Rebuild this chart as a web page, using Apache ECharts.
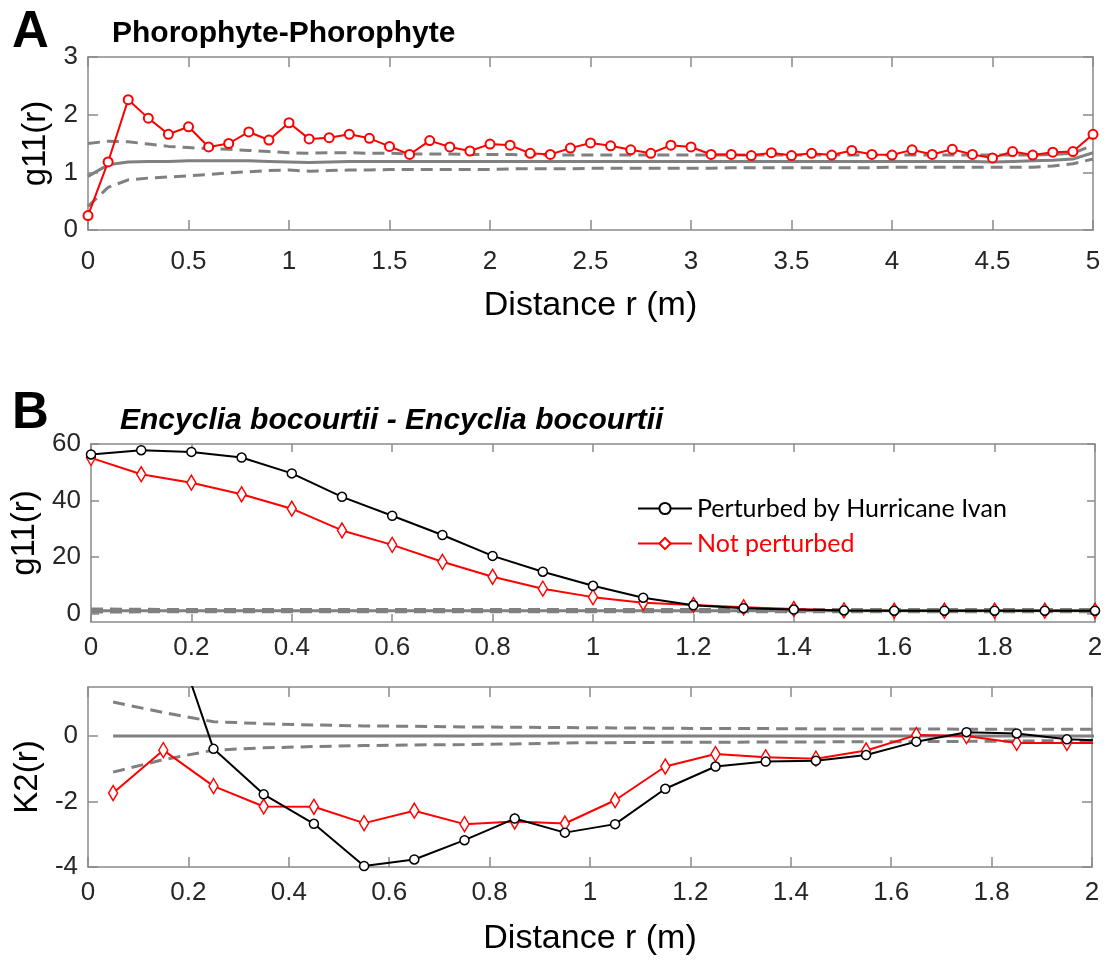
<!DOCTYPE html>
<html>
<head>
<meta charset="utf-8">
<script src="https://cdn.jsdelivr.net/npm/echarts@6/dist/echarts.min.js"></script>
<style>
html,body{margin:0;padding:0;background:#fff;}
#chart{width:1107px;height:962px;}
</style>
</head>
<body>
<div id="chart"></div>
<script>
// ---------- Panel A: Phorophyte-Phorophyte ----------
const aX = [0,0.1,0.2,0.3,0.4,0.5,0.6,0.7,0.8,0.9,1.0,1.1,1.2,1.3,1.4,1.5,1.6,1.7,1.8,1.9,2.0,2.1,2.2,2.3,2.4,2.5,2.6,2.7,2.8,2.9,3.0,3.1,3.2,3.3,3.4,3.5,3.6,3.7,3.8,3.9,4.0,4.1,4.2,4.3,4.4,4.5,4.6,4.7,4.8,4.9,5.0];
const aObserved = [0.25,1.18,2.26,1.94,1.66,1.79,1.44,1.50,1.70,1.56,1.86,1.58,1.60,1.66,1.59,1.45,1.31,1.55,1.44,1.37,1.49,1.47,1.33,1.31,1.42,1.51,1.46,1.39,1.33,1.47,1.44,1.31,1.31,1.29,1.34,1.29,1.33,1.30,1.38,1.31,1.30,1.39,1.31,1.40,1.31,1.25,1.36,1.30,1.35,1.36,1.66];
const aMean = [0.93,1.13,1.18,1.19,1.19,1.20,1.20,1.20,1.20,1.19,1.18,1.17,1.18,1.19,1.19,1.19,1.19,1.19,1.19,1.19,1.19,1.19,1.19,1.19,1.19,1.19,1.19,1.19,1.19,1.19,1.19,1.19,1.19,1.19,1.19,1.19,1.19,1.19,1.19,1.19,1.19,1.19,1.19,1.19,1.19,1.18,1.19,1.20,1.21,1.23,1.34];
const aUpper = [1.50,1.54,1.53,1.49,1.45,1.43,1.41,1.40,1.38,1.36,1.34,1.33,1.34,1.34,1.33,1.33,1.32,1.32,1.32,1.31,1.31,1.31,1.30,1.30,1.30,1.30,1.30,1.30,1.30,1.30,1.30,1.30,1.30,1.30,1.30,1.30,1.30,1.30,1.30,1.30,1.30,1.30,1.30,1.30,1.30,1.30,1.30,1.30,1.31,1.33,1.47];
const aLower = [0.41,0.74,0.87,0.90,0.92,0.94,0.96,0.99,1.01,1.03,1.04,1.02,1.03,1.04,1.04,1.05,1.05,1.05,1.05,1.05,1.05,1.06,1.06,1.06,1.06,1.07,1.07,1.07,1.07,1.07,1.07,1.07,1.08,1.08,1.08,1.08,1.08,1.08,1.08,1.08,1.09,1.09,1.09,1.09,1.09,1.09,1.09,1.09,1.11,1.15,1.23];
const aXTicks = [0,0.5,1,1.5,2,2.5,3,3.5,4,4.5,5];
const aYTicks = [0,1,2,3];

// ---------- Panel B (top): g11 ----------
const bX = [0,0.1,0.2,0.3,0.4,0.5,0.6,0.7,0.8,0.9,1.0,1.1,1.2,1.3,1.4,1.5,1.6,1.7,1.8,1.9,2.0];
const bPerturbed = [56.3,57.8,57.2,55.2,49.6,41.3,34.6,27.8,20.4,14.8,9.8,5.6,2.9,1.9,1.4,1.1,1.0,1.0,1.0,1.0,1.0];
const bNotPerturbed = [55.1,49.3,46.3,42.2,37.1,29.4,24.3,18.3,13.0,8.8,5.8,3.8,3.0,2.2,1.6,1.1,1.0,1.0,1.0,1.0,1.0];
const bMean = [1,1,1,1,1,1,1,1,1,1,1,1,1,1,1,1,1,1,1,1,1];
const bUpper = [1.6,1.5,1.4,1.4,1.4,1.4,1.4,1.4,1.4,1.4,1.4,1.4,1.4,1.4,1.4,1.4,1.4,1.4,1.4,1.4,1.4];
const bLower = [0.5,0.6,0.6,0.6,0.6,0.6,0.6,0.6,0.6,0.6,0.6,0.6,0.6,0.6,0.6,0.6,0.6,0.6,0.6,0.6,0.6];
const bXTicks = [0,0.2,0.4,0.6,0.8,1,1.2,1.4,1.6,1.8,2];
const bYTicks = [0,20,40,60];

// ---------- Panel B (bottom): K2 ----------
const kX = [0.05,0.15,0.25,0.35,0.45,0.55,0.65,0.75,0.85,0.95,1.05,1.15,1.25,1.35,1.45,1.55,1.65,1.75,1.85,1.95,2.05];
const kPerturbed = [7.5,4.1,-0.39,-1.78,-2.68,-3.97,-3.77,-3.18,-2.52,-2.95,-2.69,-1.61,-0.93,-0.78,-0.75,-0.58,-0.17,0.12,0.08,-0.10,-0.15];
const kNotPerturbed = [-1.74,-0.43,-1.53,-2.15,-2.16,-2.66,-2.28,-2.69,-2.61,-2.67,-1.96,-0.93,-0.55,-0.65,-0.69,-0.44,0.03,0.0,-0.21,-0.21,-0.21];
const kMean = [0,0,0,0,0,0,0,0,0,0,0,0,0,0,0,0,0,0,0,0,0];
const kUpper = [1.04,0.72,0.44,0.38,0.34,0.31,0.30,0.28,0.27,0.26,0.25,0.24,0.23,0.23,0.22,0.22,0.22,0.21,0.21,0.21,0.21];
const kLower = [-1.10,-0.72,-0.43,-0.36,-0.32,-0.29,-0.27,-0.26,-0.24,-0.21,-0.20,-0.19,-0.19,-0.18,-0.18,-0.17,-0.17,-0.16,-0.15,-0.14,-0.14];
const kYTicks = [-4,-2,0];

const NAME_P = 'Perturbed by Hurricane Ivan';
const NAME_N = 'Not perturbed';

// ---------- helpers ----------
const FONT = "'Liberation Sans', Arial, Helvetica, sans-serif";
const AXC = '#8a8a8a';
const GRAY = '#808080';
const pairs = (xs, ys) => xs.map((x, i) => [x, ys[i]]);

function xAxisPair(grid, min, max, ticks, tickLen, labelMargin, nameGap) {
  return [
    {
      type: 'value', gridIndex: grid, min: min, max: max, position: 'bottom',
      axisLine: {show: true, onZero: false, lineStyle: {color: AXC, width: 1.5}},
      axisTick: {show: true, inside: true, length: tickLen, customValues: ticks, lineStyle: {color: AXC, width: 1.5}},
      axisLabel: {show: true, customValues: ticks, margin: labelMargin, color: '#262626', fontSize: 26, fontFamily: FONT},
      splitLine: {show: false},
      name: nameGap ? 'Distance r (m)' : '', nameLocation: 'middle', nameGap: nameGap || 0,
      nameTextStyle: {color: '#000', fontSize: 34, fontFamily: FONT}
    },
    {
      type: 'value', gridIndex: grid, min: min, max: max, position: 'top',
      axisLine: {show: true, onZero: false, lineStyle: {color: AXC, width: 1.5}},
      axisTick: {show: true, inside: true, length: tickLen, customValues: ticks, lineStyle: {color: AXC, width: 1.5}},
      axisLabel: {show: false}, splitLine: {show: false}
    }
  ];
}
function yAxisPair(grid, min, max, ticks, tickLen, name, nameGap) {
  return [
    {
      type: 'value', gridIndex: grid, min: min, max: max, position: 'left',
      axisLine: {show: true, onZero: false, lineStyle: {color: AXC, width: 1.5}},
      axisTick: {show: true, inside: true, length: tickLen, customValues: ticks, lineStyle: {color: AXC, width: 1.5}},
      axisLabel: {show: true, customValues: ticks, margin: 10, color: '#262626', fontSize: 26, fontFamily: FONT},
      splitLine: {show: false},
      name: name, nameLocation: 'middle', nameGap: nameGap, nameRotate: 90,
      nameTextStyle: {color: '#000', fontSize: 33, fontFamily: FONT}
    },
    {
      type: 'value', gridIndex: grid, min: min, max: max, position: 'right',
      axisLine: {show: true, onZero: false, lineStyle: {color: AXC, width: 1.5}},
      axisTick: {show: true, inside: true, length: tickLen, customValues: ticks, lineStyle: {color: AXC, width: 1.5}},
      axisLabel: {show: false}, splitLine: {show: false}
    }
  ];
}
function grayLine(xi, yi, data, dashed) {
  return {
    type: 'line', xAxisIndex: xi, yAxisIndex: yi, data: data, symbol: 'none', silent: true,
    lineStyle: {color: GRAY, width: 3, type: dashed ? [12, 7] : 'solid'}, z: 1
  };
}

const chart = echarts.init(document.getElementById('chart'), null, {renderer: 'canvas'});
chart.setOption({
  animation: false,
  backgroundColor: '#fff',
  title: [
    {text: 'A', left: 7, top: 2, textStyle: {fontSize: 51, fontWeight: 'bold', fontFamily: FONT, color: '#000'}},
    {text: 'Phorophyte-Phorophyte', left: 107, top: 14, textStyle: {fontSize: 30, fontWeight: 'bold', fontFamily: FONT, color: '#000'}},
    {text: 'B', left: 7, top: 383, textStyle: {fontSize: 51, fontWeight: 'bold', fontFamily: FONT, color: '#000'}},
    {text: 'Encyclia bocourtii - Encyclia bocourtii', left: 115, top: 401, textStyle: {fontSize: 30, fontWeight: 'bold', fontStyle: 'italic', fontFamily: FONT, color: '#000'}}
  ],
  legend: {
    left: 632, top: 491, orient: 'vertical', itemWidth: 54, itemHeight: 14, itemGap: 10,
    textStyle: {fontSize: 25, fontFamily: "Lato, 'Open Sans', sans-serif", lineHeight: 25},
    data: [
      {name: NAME_P, textStyle: {color: '#000'}},
      {name: NAME_N, textStyle: {color: '#ff0000'}}
    ]
  },
  grid: [
    {left: 88, top: 57, width: 1005, height: 173},
    {left: 91, top: 444, width: 1004, height: 178},
    {left: 88, top: 687, width: 1004, height: 180}
  ],
  xAxis: [].concat(
    xAxisPair(0, 0, 5, aXTicks, 10, 19, 59),
    xAxisPair(1, 0, 2, bXTicks, 8, 13, 0),
    xAxisPair(2, 0, 2, bXTicks, 10, 13, 55)
  ),
  yAxis: [].concat(
    yAxisPair(0, 0, 3, aYTicks, 10, 'g11(r)', 36),
    yAxisPair(1, -3, 60, bYTicks, 8, 'g11(r)', 48),
    yAxisPair(2, -4, 1.5, kYTicks, 10, 'K2(r)', 44)
  ),
  series: [
    // Panel A
    grayLine(0, 0, pairs(aX, aUpper), true),
    grayLine(0, 0, pairs(aX, aLower), true),
    grayLine(0, 0, pairs(aX, aMean), false),
    {
      type: 'line', name: 'Phorophyte', xAxisIndex: 0, yAxisIndex: 0, data: pairs(aX, aObserved),
      symbol: 'circle', symbolSize: 9, showAllSymbol: true,
      lineStyle: {color: '#ff0000', width: 2},
      itemStyle: {color: '#fff', borderColor: '#ff0000', borderWidth: 2}, z: 3
    },
    // Panel B g11
    grayLine(2, 2, pairs(bX, bUpper), true),
    grayLine(2, 2, pairs(bX, bLower), true),
    grayLine(2, 2, pairs(bX, bMean), false),
    {
      type: 'line', name: NAME_N, xAxisIndex: 2, yAxisIndex: 2, data: pairs(bX, bNotPerturbed),
      symbol: 'diamond', symbolSize: [9, 15], showAllSymbol: true,
      lineStyle: {color: '#ff0000', width: 2},
      itemStyle: {color: '#fff', borderColor: '#ff0000', borderWidth: 1.5}, z: 3
    },
    {
      type: 'line', name: NAME_P, xAxisIndex: 2, yAxisIndex: 2, data: pairs(bX, bPerturbed),
      symbol: 'circle', symbolSize: 9, showAllSymbol: true,
      lineStyle: {color: '#000', width: 2},
      itemStyle: {color: '#fff', borderColor: '#000', borderWidth: 1.5}, z: 4
    },
    // Panel B K2
    grayLine(4, 4, pairs(kX, kUpper), true),
    grayLine(4, 4, pairs(kX, kLower), true),
    grayLine(4, 4, pairs(kX, kMean), false),
    {
      type: 'line', name: NAME_N, xAxisIndex: 4, yAxisIndex: 4, data: pairs(kX, kNotPerturbed),
      symbol: 'diamond', symbolSize: [9, 15], showAllSymbol: true, clip: true,
      lineStyle: {color: '#ff0000', width: 2},
      itemStyle: {color: '#fff', borderColor: '#ff0000', borderWidth: 1.5}, z: 3
    },
    {
      type: 'line', name: NAME_P, xAxisIndex: 4, yAxisIndex: 4, data: pairs(kX, kPerturbed),
      symbol: 'circle', symbolSize: 9, showAllSymbol: true, clip: true,
      lineStyle: {color: '#000', width: 2},
      itemStyle: {color: '#fff', borderColor: '#000', borderWidth: 1.5}, z: 4
    }
  ]
});
</script>
</body>
</html>
